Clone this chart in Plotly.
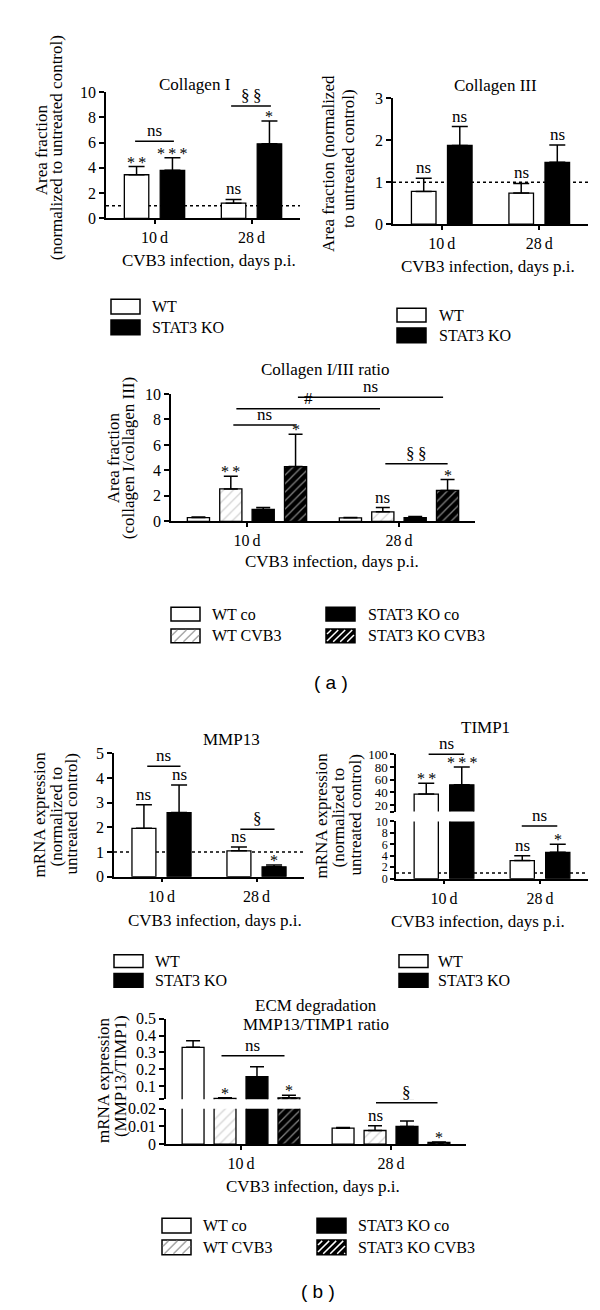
import plotly.graph_objects as go

W, H = 600, 1310
SERIF = "Liberation Serif"
SANS = "Liberation Sans"

# ---------------- data ----------------
DAYS = ["10\u2009d", "28\u2009d"]

col1_wt = [3.45, 1.2]
col1_wt_err = [0.65, 0.3]
col1_ko = [3.8, 5.9]
col1_ko_err = [1.0, 1.8]
col1_sig_wt = ["**", "ns"]
col1_sig_ko = ["***", "*"]

col3_wt = [0.78, 0.74]
col3_wt_err = [0.31, 0.23]
col3_ko = [1.87, 1.47]
col3_ko_err = [0.45, 0.41]
col3_sig_wt = ["ns", "ns"]
col3_sig_ko = ["ns", "ns"]

ratio_wt_co = [0.30, 0.28]
ratio_wt_co_err = [0.04, 0.02]
ratio_wt_cvb3 = [2.55, 0.75]
ratio_wt_cvb3_err = [1.0, 0.33]
ratio_ko_co = [0.93, 0.30]
ratio_ko_co_err = [0.15, 0.08]
ratio_ko_cvb3 = [4.3, 2.43]
ratio_ko_cvb3_err = [2.55, 0.85]
ratio_sig = [["", ""], ["**", "ns"], ["", ""], ["*", "*"]]

mmp_wt = [1.96, 1.05]
mmp_wt_err = [0.96, 0.15]
mmp_ko = [2.6, 0.40]
mmp_ko_err = [1.12, 0.07]
mmp_sig_wt = ["ns", "ns"]
mmp_sig_ko = ["ns", "*"]

timp_wt = [37.5, 3.15]
timp_wt_err = [17.0, 0.85]
timp_ko = [52.0, 4.6]
timp_ko_err = [28.0, 1.4]
timp_sig_wt = ["**", "ns"]
timp_sig_ko = ["***", "*"]

ecm_wt_co = [0.33, 0.009]
ecm_wt_co_err = [0.04, 0.0004]
ecm_wt_cvb3 = [0.025, 0.0077]
ecm_wt_cvb3_err = [0.004, 0.0027]
ecm_ko_co = [0.155, 0.010]
ecm_ko_co_err = [0.06, 0.003]
ecm_ko_cvb3 = [0.029, 0.001]
ecm_ko_cvb3_err = [0.016, 0.0002]
ecm_sig = [["", ""], ["*", "ns"], ["", ""], ["*", "*"]]

# ---------------- helpers ----------------
def px(x):
    return x / W


def py(y):
    return 1 - y / H


STYLES = {
    "WT": dict(color="white"),
    "STAT3 KO": dict(color="black"),
    "WT co": dict(color="white"),
    "WT CVB3": dict(color="white", pattern=dict(shape="/", fgcolor="#a8a8a8", bgcolor="white",
                                                 size=7, solidity=0.18, fillmode="overlay")),
    "STAT3 KO co": dict(color="black"),
    "STAT3 KO CVB3": dict(color="black", pattern=dict(shape="/", fgcolor="white", bgcolor="black",
                                                       size=6, solidity=0.22, fillmode="overlay")),
}

traces = []
shapes = []
annotations = []
layout_axes = {}


def axkey(a):
    return ("xaxis" if a[0] == "x" else "yaxis") + a[1:]


def add_xaxis(xa, ya, xdom, show=True):
    layout_axes[axkey(xa)] = dict(
        domain=[px(xdom[0]), px(xdom[1])], anchor=ya, type="category",
        categoryorder="array", categoryarray=DAYS, range=[-0.5, 1.5],
        showline=show, linecolor="black", linewidth=1.5,
        ticks="outside" if show else "", ticklen=4, tickwidth=1.5, tickcolor="black",
        showticklabels=show, tickfont=dict(family=SERIF, size=16, color="black"),
        showgrid=False, zeroline=False, fixedrange=True)


def add_yaxis(ya, xa, ydom, rng, tickvals, ticktext, size=16):
    layout_axes[axkey(ya)] = dict(
        domain=[py(ydom[1]), py(ydom[0])], anchor=xa, range=rng,
        showline=True, linecolor="black", linewidth=1.5,
        ticks="outside", ticklen=5, tickwidth=1.5, tickcolor="black",
        tickvals=tickvals, ticktext=ticktext,
        tickfont=dict(family=SERIF, size=size, color="black"),
        showgrid=False, zeroline=False, fixedrange=True)


def bar(xa, ya, vals, errs, name, k, n, capw):
    spacing, width = (0.37, 0.252) if n == 2 else (0.213, 0.146)
    center = (k - (n - 1) / 2) * spacing
    traces.append(go.Bar(
        x=DAYS, y=vals, xaxis=xa, yaxis=ya, offset=center - width / 2, width=width,
        marker=dict(line=dict(color="black", width=1.3), **STYLES[name]),
        error_y=dict(type="data", array=errs, arrayminus=[0] * len(errs), symmetric=False,
                     color="black", thickness=1.5, width=capw),
        showlegend=False, hoverinfo="skip"))
    return center


def sig_text(s):
    return "\u2009".join(s) if s and set(s) == {"*"} else s


def sig(xa, ya, xpos, ytop, s):
    if not s:
        return
    star = set(s) == {"*"}
    annotations.append(dict(x=xpos, y=ytop, xref=xa, yref=ya, text=sig_text(s), showarrow=False,
                            xanchor="center", yanchor="bottom", yshift=-6 if star else -1,
                            font=dict(family=SERIF, size=16 if star else 17, color="black")))


def bracket(xa, ya, x0, x1, y, s):
    shapes.append(dict(type="line", xref=xa, yref=ya, x0=x0, x1=x1, y0=y, y1=y,
                       line=dict(color="black", width=1.5)))
    annotations.append(dict(x=(x0 + x1) / 2, y=y, xref=xa, yref=ya, text=s, showarrow=False,
                            xanchor="center", yanchor="bottom", yshift=-1,
                            font=dict(family=SERIF, size=17, color="black")))


def dotted(xa, ya, y):
    shapes.append(dict(type="line", xref=xa, yref=ya, x0=-0.5, x1=1.5, y0=y, y1=y, layer="below",
                       line=dict(color="black", width=1.5, dash="dot")))


def text(x, y, s, size=17, family=SERIF, angle=0, xanchor="center"):
    annotations.append(dict(x=px(x), y=py(y), xref="paper", yref="paper", text=s, showarrow=False,
                            textangle=angle, xanchor=xanchor, yanchor="middle",
                            font=dict(family=family, size=size, color="black")))


def hatch(x0, y0, x1, y1, step, color, width):
    c = x0 + y0 + step * 0.6
    while c < x1 + y1:
        pts = []
        for xx in (x0, x1):
            yy = c - xx
            if y0 <= yy <= y1:
                pts.append((xx, yy))
        for yy in (y0, y1):
            xx = c - yy
            if x0 < xx < x1:
                pts.append((xx, yy))
        if len(pts) >= 2:
            (ax, ay), (bx, by) = pts[0], pts[1]
            shapes.append(dict(type="line", xref="paper", yref="paper", x0=px(ax), y0=py(ay),
                               x1=px(bx), y1=py(by), line=dict(color=color, width=width)))
        c += step


def legend_item(x, y0, y1, name, tx):
    st = STYLES[name]
    shapes.append(dict(type="rect", xref="paper", yref="paper", x0=px(x), x1=px(x + 29),
                       y0=py(y1), y1=py(y0), fillcolor=st["color"],
                       line=dict(color="black", width=1.5)))
    if "pattern" in st:
        fg = st["pattern"]["fgcolor"]
        hatch(x + 1, y0 + 1, x + 28, y1 - 1, 9 if st["color"] == "white" else 7, fg, 1.5)
    text(tx, (y0 + y1) / 2, name, size=16, xanchor="left")


# ---------------- panel A1: Collagen I ----------------
add_xaxis("x", "y", (98, 292))
add_yaxis("y", "x", (77, 205), [0, 10], [0, 2, 4, 6, 8, 10], ["0", "2", "4", "6", "8", "10"])
dotted("x", "y", 1)
for k, (v, e, s, nm) in enumerate([(col1_wt, col1_wt_err, col1_sig_wt, "WT"),
                                    (col1_ko, col1_ko_err, col1_sig_ko, "STAT3 KO")]):
    c = bar("x", "y", v, e, nm, k, 2, 8)
    for i in range(2):
        sig("x", "y", i + c, v[i] + e[i], s[i])
bracket("x", "y", -0.2, 0.2, 6.1, "ns")
bracket("x", "y", 0.79, 1.2, 8.9, "§\u2009§")
text(187, 69, "Collagen I")
text(33, 136, "Area fraction", angle=-90)
text(48, 134, "(normalized to untreated control)", angle=-90)
text(201, 248, "CVB3 infection, days p.i.")
legend_item(103, 287, 302, "WT", 142)
legend_item(103, 308, 323, "STAT3 KO", 142)

# ---------------- panel A2: Collagen III ----------------
add_xaxis("x2", "y2", (385, 580))
add_yaxis("y2", "x2", (83, 211), [0, 3], [0, 1, 2, 3], ["0", "1", "2", "3"])
dotted("x2", "y2", 1)
for k, (v, e, s, nm) in enumerate([(col3_wt, col3_wt_err, col3_sig_wt, "WT"),
                                    (col3_ko, col3_ko_err, col3_sig_ko, "STAT3 KO")]):
    c = bar("x2", "y2", v, e, nm, k, 2, 8)
    for i in range(2):
        sig("x2", "y2", i + c, v[i] + e[i], s[i])
text(487, 70, "Collagen III")
text(320, 150, "Area fraction (normalized", angle=-90)
text(340, 145, "to untreated control)", angle=-90)
text(480, 254, "CVB3 infection, days p.i.")
legend_item(389, 296, 310, "WT", 429)
legend_item(389, 316, 331, "STAT3 KO", 429)

# ---------------- panel A3: Collagen I/III ratio ----------------
add_xaxis("x3", "y3", (163, 467))
add_yaxis("y3", "x3", (383, 512), [0, 10], [0, 2, 4, 6, 8, 10], ["0", "2", "4", "6", "8", "10"])
ratio_series = [(ratio_wt_co, ratio_wt_co_err, "WT co"), (ratio_wt_cvb3, ratio_wt_cvb3_err, "WT CVB3"),
                (ratio_ko_co, ratio_ko_co_err, "STAT3 KO co"), (ratio_ko_cvb3, ratio_ko_cvb3_err, "STAT3 KO CVB3")]
for k, (v, e, nm) in enumerate(ratio_series):
    c = bar("x3", "y3", v, e, nm, k, 4, 7)
    for i in range(2):
        sig("x3", "y3", i + c, v[i] + e[i], ratio_sig[k][i])
bracket("x3", "y3", -0.09, 0.32, 7.57, "ns")
bracket("x3", "y3", -0.07, 0.875, 8.84, "#")
bracket("x3", "y3", 0.335, 1.29, 9.74, "ns")
bracket("x3", "y3", 0.91, 1.32, 4.52, "§\u2009§")
text(317, 358, "Collagen I/III ratio")
text(105, 448, "Area fraction", angle=-90)
text(120, 448, "(collagen I/collagen III)", angle=-90)
text(324, 553, "CVB3 infection, days p.i.")
legend_item(163, 599, 613, "WT co", 202)
legend_item(163, 621, 635, "WT CVB3", 202)
legend_item(318, 599, 613, "STAT3 KO co", 358)
legend_item(318, 621, 635, "STAT3 KO CVB3", 358)
text(323, 675, "( a )", size=19, family=SANS)

# ---------------- panel B1: MMP13 ----------------
add_xaxis("x4", "y4", (106, 296))
add_yaxis("y4", "x4", (747, 872), [0, 5], [0, 1, 2, 3, 4, 5], ["0", "1", "2", "3", "4", "5"])
dotted("x4", "y4", 1)
for k, (v, e, s, nm) in enumerate([(mmp_wt, mmp_wt_err, mmp_sig_wt, "WT"),
                                    (mmp_ko, mmp_ko_err, mmp_sig_ko, "STAT3 KO")]):
    c = bar("x4", "y4", v, e, nm, k, 2, 8)
    for i in range(2):
        sig("x4", "y4", i + c, v[i] + e[i], s[i])
bracket("x4", "y4", -0.15, 0.2, 4.48, "ns")
bracket("x4", "y4", 0.83, 1.19, 1.92, "§")
text(223, 733, "MMP13")
text(32, 809, "mRNA expression", angle=-90)
text(48, 811, "(normalized to", angle=-90)
text(64, 809, "untreated control)", angle=-90)
text(207, 916, "CVB3 infection, days p.i.")
legend_item(106, 951, 964, "WT", 145)
legend_item(106, 970, 984, "STAT3 KO", 145)

# ---------------- panel B2: TIMP1 (broken axis) ----------------
TIMP_BREAK = 10
add_xaxis("x5", "y5", (388, 580))
add_yaxis("y5", "x5", (816, 874), [0, 10], [0, 2, 4, 6, 8, 10], ["0", "2", "4", "6", "8", "10"], size=12)
add_xaxis("x6", "y6", (388, 580), show=False)
add_yaxis("y6", "x6", (748, 806), [10, 100], [10, 20, 40, 60, 80, 100],
          ["", "20", "40", "60", "80", "100"], size=13)
layout_axes["yaxis5"]["ticklen"] = 4
layout_axes["yaxis6"]["ticklen"] = 4
dotted("x5", "y5", 1)
for k, (v, e, s, nm) in enumerate([(timp_wt, timp_wt_err, timp_sig_wt, "WT"),
                                    (timp_ko, timp_ko_err, timp_sig_ko, "STAT3 KO")]):
    c = bar("x5", "y5", v, e, nm, k, 2, 8)
    bar("x6", "y6", v, e, nm, k, 2, 8)
    for i in range(2):
        top = v[i] + e[i]
        if top > TIMP_BREAK:
            sig("x6", "y6", i + c, top, s[i])
        else:
            sig("x5", "y5", i + c, top, s[i])
shapes.append(dict(type="line", xref="x6", yref="y6 domain", x0=-0.16, x1=0.21, y0=1.0, y1=1.0,
                   line=dict(color="black", width=1.5)))
annotations.append(dict(x=0.025, y=1.0, xref="x6", yref="y6 domain", text="ns", showarrow=False,
                        yanchor="bottom", yshift=-1, font=dict(family=SERIF, size=17, color="black")))
bracket("x5", "y5", 0.81, 1.18, 9.2, "ns")
text(477, 721, "TIMP1")
text(313, 810, "mRNA expression", angle=-90)
text(330, 812, "(normalized to", angle=-90)
text(347, 810, "untreated control)", angle=-90)
text(470, 917, "CVB3 infection, days p.i.")
legend_item(391, 951, 964, "WT", 428)
legend_item(391, 970, 984, "STAT3 KO", 428)

# ---------------- panel B3: ECM degradation (broken axis) ----------------
ECM_BREAK = 0.02
add_xaxis("x7", "y7", (158, 458))
add_yaxis("y7", "x7", (1107, 1143), [0, 0.02], [0, 0.01, 0.02], ["0", "0.01", "0.02"])
add_xaxis("x8", "y8", (158, 458), show=False)
add_yaxis("y8", "x8", (1016, 1097.6), [0.02, 0.5], [0.02, 0.1, 0.2, 0.3, 0.4, 0.5],
          ["", "0.1", "0.2", "0.3", "0.4", "0.5"])
ecm_series = [(ecm_wt_co, ecm_wt_co_err, "WT co"), (ecm_wt_cvb3, ecm_wt_cvb3_err, "WT CVB3"),
              (ecm_ko_co, ecm_ko_co_err, "STAT3 KO co"), (ecm_ko_cvb3, ecm_ko_cvb3_err, "STAT3 KO CVB3")]
for k, (v, e, nm) in enumerate(ecm_series):
    c = bar("x7", "y7", v, e, nm, k, 4, 7)
    bar("x8", "y8", v, e, nm, k, 4, 7)
    for i in range(2):
        top = v[i] + e[i]
        if top > ECM_BREAK:
            sig("x8", "y8", i + c, top, ecm_sig[k][i])
        else:
            sig("x7", "y7", i + c, top, ecm_sig[k][i])
bracket("x8", "y8", -0.13, 0.29, 0.28, "ns")
shapes.append(dict(type="line", xref="x7", yref="y7 domain", x0=0.9, x1=1.31, y0=1.167, y1=1.167,
                   line=dict(color="black", width=1.5)))
annotations.append(dict(x=1.105, y=1.167, xref="x7", yref="y7 domain", text="§", showarrow=False,
                        yanchor="bottom", yshift=-1, font=dict(family=SERIF, size=17, color="black")))
text(308, 1003, "ECM degradation")
text(308, 1022, "MMP13/TIMP1 ratio")
text(95, 1078, "mRNA expression", angle=-90)
text(112, 1074, "(MMP13/TIMP1)", angle=-90)
text(305, 1186, "CVB3 infection, days p.i.")
legend_item(154, 1218, 1233, "WT co", 193)
legend_item(154, 1240, 1255, "WT CVB3", 193)
legend_item(309, 1218, 1233, "STAT3 KO co", 348)
legend_item(309, 1240, 1255, "STAT3 KO CVB3", 348)
text(310, 1292, "( b )", size=19, family=SANS)

fig = go.Figure(data=traces)
fig.update_layout(width=W, height=H, margin=dict(l=0, r=0, t=0, b=0),
                  paper_bgcolor="white", plot_bgcolor="white", barmode="overlay",
                  showlegend=False, shapes=shapes, annotations=annotations, **layout_axes)
fig.write_html("out.html")
